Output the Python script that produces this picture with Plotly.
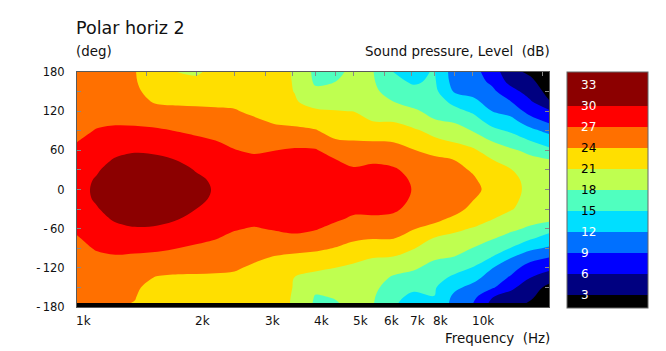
import numpy as np
import plotly.graph_objects as go

# ---------------- data ----------------
freq_hz = [1000, 1120, 1250, 1400, 1600, 1800, 2000, 2240, 2500, 2800, 3150, 3550,
           4000, 4500, 5000, 5600, 6300, 7100, 8000, 9000, 10000, 11200, 12500, 14000, 16000]
angle_deg = list(range(-180, 181, 15))

# Sound pressure level (dB) per frequency, angles -180 ... 180
spl_1000 = [25.3, 25.4, 25.5, 25.6, 25.8, 26.0, 26.3, 26.8, 27.4, 28.0, 28.5, 28.7, 28.8, 28.7, 28.5, 28.1, 27.5, 26.9, 26.3, 26.0, 25.8, 25.6, 25.5, 25.4, 25.3]
spl_1120 = [24.6, 24.8, 25.0, 25.3, 25.8, 26.5, 27.2, 27.8, 28.4, 29.0, 29.7, 30.4, 30.6, 30.3, 29.6, 29.0, 28.4, 27.8, 27.15, 26.5, 25.8, 25.3, 25.0, 24.8, 24.7]
spl_1250 = [24.1, 24.3, 24.7, 25.2, 25.8, 26.7, 27.6, 28.3, 29.2, 30.4, 31.5, 32.3, 32.6, 32.3, 31.5, 30.3, 29.2, 28.3, 27.5, 26.6, 25.8, 25.2, 24.8, 24.5, 24.4]
spl_1400 = [23.8, 24.1, 24.4, 24.8, 25.5, 26.5, 27.6, 28.6, 29.7, 31.3, 32.5, 33.3, 33.6, 33.3, 32.5, 31.2, 29.6, 28.6, 27.6, 26.4, 25.5, 24.9, 24.5, 24.2, 24.1]
spl_1600 = [22.4, 22.5, 22.9, 23.8, 25.1, 26.3, 27.4, 28.4, 29.5, 31.0, 32.5, 33.3, 33.6, 33.3, 32.5, 30.8, 29.3, 28.3, 27.3, 26.2, 25.0, 23.6, 22.8, 22.4, 22.3]
spl_1800 = [21.7, 22.0, 22.6, 23.6, 24.8, 25.9, 27.0, 28.0, 28.9, 30.1, 31.2, 32.1, 32.5, 32.1, 31.2, 29.9, 28.9, 27.9, 26.9, 25.8, 24.7, 23.5, 22.4, 21.6, 20.95]
spl_2000 = [21.6, 22.0, 22.7, 23.6, 24.7, 25.6, 26.6, 27.6, 28.4, 29.2, 30.0, 30.7, 31.0, 30.6, 29.8, 29.0, 28.3, 27.5, 26.5, 25.5, 24.6, 23.4, 22.4, 21.5, 20.7]
spl_2240 = [21.9, 22.2, 22.8, 23.6, 24.5, 25.2, 26.1, 27.1, 27.8, 28.4, 29.0, 29.5, 29.7, 29.5, 29.0, 28.4, 27.7, 27.0, 26.0, 25.1, 24.4, 23.4, 22.6, 22.0, 21.6]
spl_2500 = [22.1, 22.4, 22.9, 23.5, 24.3, 25.0, 25.7, 26.4, 27.2, 28.0, 28.7, 29.2, 29.4, 29.2, 28.7, 28.0, 27.1, 26.3, 25.6, 24.9, 24.2, 23.4, 22.8, 22.3, 22.0]
spl_2800 = [21.9, 22.1, 22.5, 23.0, 23.6, 24.4, 25.1, 25.9, 26.8, 27.8, 28.6, 29.1, 29.3, 29.1, 28.6, 27.7, 26.6, 25.8, 25.0, 24.4, 23.5, 22.9, 22.4, 22.0, 21.8]
spl_3150 = [21.6, 21.6, 21.8, 22.3, 23.0, 23.8, 24.8, 26.1, 27.2, 28.1, 28.8, 29.3, 29.5, 29.3, 28.8, 27.9, 26.95, 25.9, 24.7, 23.7, 22.9, 22.2, 21.7, 21.6, 21.6]
spl_3550 = [20.8, 20.85, 20.9, 20.95, 22.3, 23.5, 24.6, 26.4, 27.6, 28.3, 29.0, 29.5, 29.7, 29.5, 29.0, 28.2, 27.3, 26.0, 24.5, 23.4, 22.2, 21.2, 20.95, 20.9, 20.85]
spl_4000 = [17.5, 17.8, 18.6, 20.2, 21.5, 23.0, 24.5, 26.0, 27.2, 28.2, 29.0, 29.4, 29.6, 29.4, 29.0, 28.2, 27.2, 25.9, 24.2, 22.8, 21.35, 20.1, 18.6, 17.6, 17.3]
spl_4500 = [17.7, 18.1, 19.0, 20.0, 21.0, 22.5, 23.9, 25.0, 26.2, 27.4, 28.3, 29.0, 29.3, 29.0, 28.3, 27.1, 25.9, 24.2, 23.0, 22.0, 21.1, 20.0, 19.0, 18.0, 17.6]
spl_5000 = [18.4, 18.6, 19.1, 19.9, 20.6, 21.5, 23.3, 24.3, 25.5, 26.6, 27.6, 28.4, 28.8, 28.3, 27.3, 26.3, 25.0, 24.0, 23.1, 22.1, 20.95, 20.0, 19.2, 18.6, 18.4]
spl_5600 = [18.1, 18.3, 18.8, 19.4, 20.2, 21.0, 22.6, 24.1, 25.4, 26.6, 27.7, 28.5, 28.8, 28.5, 27.7, 26.6, 25.3, 23.9, 22.4, 20.95, 20.1, 19.3, 18.7, 18.3, 18.1]
spl_6300 = [15.1, 15.5, 16.4, 17.6, 19.2, 20.7, 22.6, 24.05, 25.3, 26.3, 27.5, 28.1, 28.5, 28.1, 27.4, 26.2, 25.0, 23.8, 22.5, 20.8, 19.6, 18.0, 16.6, 15.6, 15.0]
spl_7100 = [14.2, 14.5, 15.4, 16.9, 18.4, 19.8, 21.1, 22.8, 24.1, 25.3, 26.1, 26.6, 26.8, 26.6, 26.1, 25.3, 24.1, 22.9, 21.4, 19.9, 18.4, 17.0, 15.7, 14.7, 14.3]
spl_8000 = [14.7, 14.95, 15.3, 15.9, 17.0, 18.3, 19.8, 20.8, 23.4, 24.5, 25.2, 25.7, 25.9, 25.7, 25.2, 24.5, 23.3, 21.4, 20.3, 18.2, 17.2, 16.4, 15.8, 15.4, 15.2]
spl_9000 = [10.8, 11.3, 12.6, 14.5, 15.9, 17.8, 19.0, 20.2, 21.6, 23.6, 24.7, 25.1, 25.3, 25.1, 24.6, 24.0, 22.2, 20.7, 19.2, 17.7, 15.8, 14.2, 11.7, 10.8, 10.5]
spl_10000 = [8.9, 9.8, 11.2, 13.0, 14.9, 16.6, 17.95, 19.6, 20.8, 22.6, 23.5, 24.1, 24.6, 24.3, 23.8, 22.8, 21.4, 19.9, 17.9, 16.2, 14.6, 12.8, 11.0, 10.2, 9.9]
spl_11200 = [4.8, 6.1, 9.4, 10.7, 12.1, 14.8, 16.3, 18.2, 19.6, 21.1, 22.4, 23.0, 23.3, 23.0, 22.4, 21.1, 19.8, 17.8, 15.8, 13.9, 12.0, 10.6, 9.6, 8.5, 7.8]
spl_12500 = [3.5, 4.8, 6.6, 8.6, 10.2, 12.0, 14.9, 16.9, 18.6, 19.9, 21.2, 21.6, 21.9, 21.7, 21.1, 19.9, 18.4, 16.6, 14.6, 12.9, 10.9, 9.0, 7.2, 5.0, 3.6]
spl_14000 = [2.4, 3.3, 4.3, 6.0, 7.6, 10.0, 12.6, 15.3, 17.5, 19.0, 19.8, 20.2, 20.3, 20.2, 19.8, 18.7, 17.3, 14.95, 12.8, 10.3, 7.9, 6.3, 4.6, 3.5, 2.6]
spl_16000 = [1.2, 1.4, 1.8, 4.0, 6.5, 8.6, 11.4, 13.5, 15.7, 18.6, 19.2, 19.7, 19.8, 19.7, 19.3, 18.0, 15.4, 13.2, 10.8, 7.9, 5.9, 2.5, 1.6, 1.3, 1.2]

spl_columns = [spl_1000, spl_1120, spl_1250, spl_1400, spl_1600, spl_1800, spl_2000,
               spl_2240, spl_2500, spl_2800, spl_3150, spl_3550, spl_4000, spl_4500,
               spl_5000, spl_5600, spl_6300, spl_7100, spl_8000, spl_9000, spl_10000,
               spl_11200, spl_12500, spl_14000, spl_16000]

level_ticks = [3, 6, 9, 12, 15, 18, 21, 24, 27, 30, 33]
level_label_colors = ["white", "white", "white", "white", "black", "black", "black",
                      "black", "white", "white", "white"]
band_colors = ["#000000", "#000080", "#0000ff", "#0070ff", "#00dfff", "#50ffbf",
               "#bfff50", "#ffdf00", "#ff7000", "#ff0000", "#8c0000"]
z_min, z_max = 1.1, 34.8

x_tick_hz = [1500, 2000, 2500, 3000, 3500, 4000, 4500, 5000, 6000, 7000, 8000, 9000, 10000, 15000]
x_label_hz = [1000, 2000, 3000, 4000, 5000, 6000, 7000, 8000, 10000]
x_label_text = ["1k", "2k", "3k", "4k", "5k", "6k", "7k", "8k", "10k"]
y_tick_deg = list(range(-180, 181, 30))
y_tick_text = ["-\u2009180", "", "-\u2009120", "", "-\u200960", "", "0", "", "60", "", "120", "", "180"]

# ---------------- geometry ----------------
W, H = 666, 351
PL, PR, PT, PB = 77, 549, 72, 307          # plot area in pixels
PH = PB - PT
CB_L, CB_R, CB_T, CB_B = 567, 648, 72, 308  # colour bar in pixels
STRIP = 4                                   # dark strip along the bottom edge

def py(pix):
    return (PB - pix) / PH

def px(pix):
    return (pix - PL) / (PR - PL)

FONT = "DejaVu Sans"
TXT = "#111111"

z = np.array(spl_columns).T  # rows = angles, columns = frequencies

colorscale = [[i / (len(band_colors) - 1), c] for i, c in enumerate(band_colors)]

fig = go.Figure()
fig.add_trace(go.Contour(
    x=freq_hz, y=angle_deg, z=z,
    zmin=z_min, zmax=z_max, zauto=False,
    autocontour=False,
    contours=dict(start=3, end=30, size=3, coloring="fill", showlines=False),
    line=dict(width=0, smoothing=1),
    colorscale=colorscale,
    hoverinfo="skip",
    colorbar=dict(
        thickness=CB_R - CB_L, thicknessmode="pixels",
        len=CB_B - CB_T, lenmode="pixels",
        x=px(CB_L), xanchor="left", xpad=0,
        y=py((CB_T + CB_B) / 2), yanchor="middle", ypad=0,
        outlinecolor="#666666", outlinewidth=1,
        showticklabels=False, ticks="",
    ),
))

annotations = []
# colour bar labels
for v, col in zip(level_ticks, level_label_colors):
    pix = CB_B - (v - z_min) / (z_max - z_min) * (CB_B - CB_T)
    annotations.append(dict(
        x=px(579), y=py(pix), xref="paper", yref="paper",
        xanchor="left", yanchor="middle", showarrow=False,
        text=str(v), font=dict(family=FONT, size=12, color=col)))
# frequency tick labels (left-aligned at their tick)
for hz, t in zip(x_label_hz, x_label_text):
    annotations.append(dict(
        x=np.log10(hz), y=py(320.5), xref="x", yref="paper",
        xanchor="left", yanchor="middle", showarrow=False, xshift=-3,
        text=t, font=dict(family=FONT, size=12, color=TXT)))
# titles
annotations += [
    dict(x=px(PL), y=py(28), xref="paper", yref="paper", xanchor="left", yanchor="middle",
         showarrow=False, xshift=-3, text="Polar horiz 2", font=dict(family=FONT, size=17.5, color=TXT)),
    dict(x=px(PL), y=py(51), xref="paper", yref="paper", xanchor="left", yanchor="middle",
         showarrow=False, xshift=-3, text="(deg)", font=dict(family=FONT, size=13.4, color=TXT)),
    dict(x=px(PR), y=py(51), xref="paper", yref="paper", xanchor="right", yanchor="middle",
         showarrow=False, xshift=3, text="Sound pressure, Level\u00a0\u00a0(dB)",
         font=dict(family=FONT, size=13.4, color=TXT)),
    dict(x=px(PR), y=py(338), xref="paper", yref="paper", xanchor="right", yanchor="middle",
         showarrow=False, xshift=3, text="Frequency\u00a0\u00a0(Hz)",
         font=dict(family=FONT, size=13.4, color=TXT)),
]

fig.update_layout(
    width=W, height=H, autosize=False,
    margin=dict(l=PL, r=W - PR, t=PT, b=H - PB, pad=0),
    paper_bgcolor="white", plot_bgcolor="black",
    showlegend=False,
    annotations=annotations,
    shapes=[dict(type="rect", xref="x domain", yref="y domain",
                 x0=0, x1=1, y0=0, y1=STRIP / PH,
                 fillcolor="black", line=dict(width=0), layer="above")],
    xaxis=dict(
        type="log", range=[np.log10(1000), np.log10(15600)],
        tickvals=x_tick_hz, showticklabels=False,
        ticks="inside", ticklen=4, tickcolor="#888888", tickwidth=1,
        showline=True, linecolor="#5a5a5a", linewidth=1, mirror="ticks",
        showgrid=False, zeroline=False,
    ),
    yaxis=dict(
        range=[-180, 180],
        tickvals=y_tick_deg, ticktext=y_tick_text,
        ticks="inside", ticklen=4, tickcolor="#888888", tickwidth=1,
        showline=True, linecolor="#5a5a5a", linewidth=1, mirror="ticks",
        showgrid=False, zeroline=False,
        tickfont=dict(family=FONT, size=11.5, color=TXT),
        ticklabelstandoff=9,
    ),
)

fig.write_html("out.html")
